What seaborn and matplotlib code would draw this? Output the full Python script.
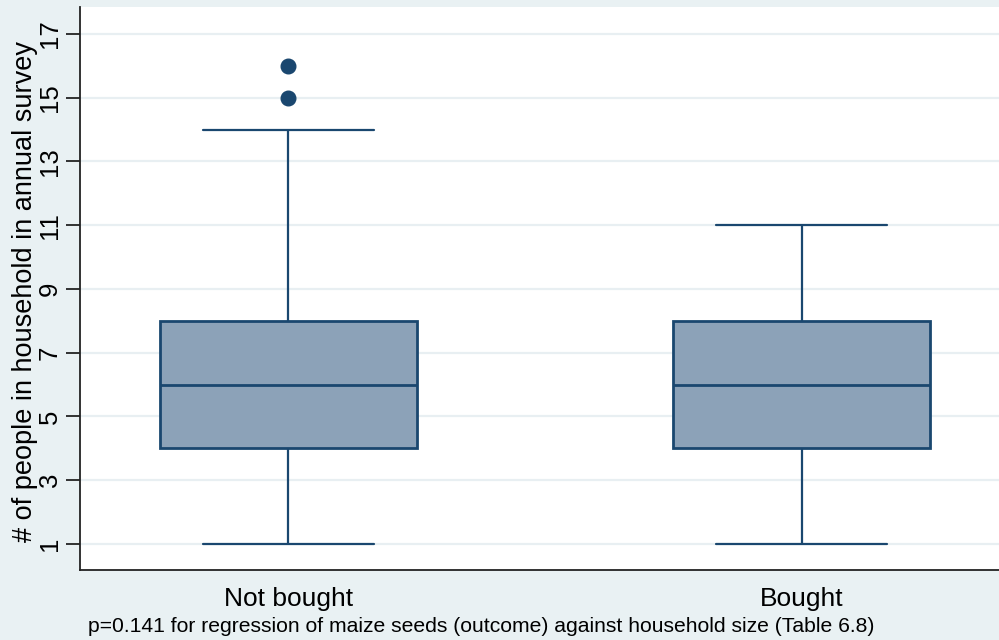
import matplotlib
matplotlib.use("Agg")
import matplotlib.pyplot as plt
import seaborn as sns
import pandas as pd

# Household sizes reported in the annual survey, by maize seed purchase
not_bought = [1, 3, 4, 4, 5, 6, 6, 7, 8, 8, 14, 15, 16]
bought = [1, 3, 4, 5, 6, 7, 8, 10, 11]
groups = ["Not bought", "Bought"]
y_ticks = [1, 3, 5, 7, 9, 11, 13, 15, 17]

df = pd.DataFrame({
    "group": [groups[0]] * len(not_bought) + [groups[1]] * len(bought),
    "size": not_bought + bought,
})

sns.set_theme(style="white", rc={"text.color": "black",
                                 "axes.labelcolor": "black",
                                 "xtick.color": "black",
                                 "ytick.color": "black"})
plt.rcParams["font.family"] = ["Liberation Sans", "DejaVu Sans"]

BG = "#E9F1F3"
GRID = "#E8EFF2"
NAVY = "#1A476F"
FILL = "#8CA2B8"

fig = plt.figure(figsize=(9.99, 6.4), dpi=100, facecolor=BG)
ax = fig.add_axes([80 / 999, 70 / 640, 930 / 999, 563 / 640])
ax.set_facecolor("white")

sns.boxplot(
    data=df, x="group", y="size", order=groups, ax=ax,
    width=0.5, whis=1.5,
    color=FILL, saturation=1,
    boxprops=dict(facecolor=FILL, edgecolor=NAVY, linewidth=2.0),
    medianprops=dict(color=NAVY, linewidth=2.0),
    whiskerprops=dict(color=NAVY, linewidth=1.6),
    capprops=dict(color=NAVY, linewidth=1.6),
    capwidths=0.333,
    flierprops=dict(marker="o", markerfacecolor=NAVY, markeredgecolor=NAVY,
                    markersize=10.5),
)

ax.set_xlim(-0.405, 1.405)
ax.set_ylim(0.184, 17.847)
ax.set_yticks(y_ticks)
ax.set_yticklabels([str(t) for t in y_ticks], rotation=90, va="center",
                   fontsize=18.5)
ax.yaxis.grid(True, color=GRID, linewidth=1.6)
ax.set_axisbelow(True)

ax.tick_params(axis="y", direction="out", length=10, width=1.3, color="#222222",
               labelcolor="black", pad=3, left=True)
ax.tick_params(axis="x", length=0, pad=12, labelsize=19, labelcolor="black")

for side in ("top", "right"):
    ax.spines[side].set_visible(False)
for side in ("left", "bottom"):
    ax.spines[side].set_color("#222222")
    ax.spines[side].set_linewidth(1.3)

ax.set_xlabel("")
ax.set_ylabel("# of people in household in annual survey", fontsize=19.5,
              va="center", color="black")
ax.yaxis.set_label_coords(-55 / 930, (640 - 292 - 70) / 563)

fig.text(88 / 999, 1 - 626 / 640, "p=0.141 for regression of maize seeds "
         "(outcome) against household size (Table 6.8)",
         fontsize=15.2, ha="left", va="center", color="black")

fig.savefig("out.png", dpi=100, facecolor=BG)
